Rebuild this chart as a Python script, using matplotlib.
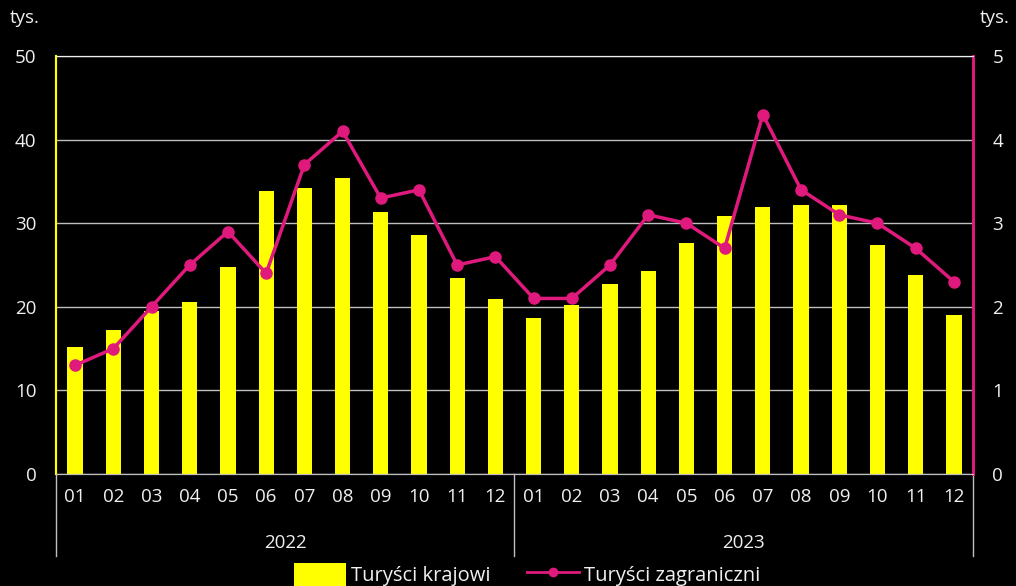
import matplotlib
matplotlib.use("Agg")
import matplotlib.pyplot as plt
import matplotlib.transforms as mtransforms
from matplotlib.lines import Line2D
from matplotlib.patches import Patch
import numpy as np

plt.rcParams['font.family'] = ['Open Sans', 'DejaVu Sans']

# Données
mois = ['01', '02', '03', '04', '05', '06', '07', '08', '09', '10', '11', '12']
annees = ['2022', '2023']
krajowi = [15.2, 17.2, 19.5, 20.6, 24.8, 33.9, 34.2, 35.4, 31.3, 28.6, 23.4, 20.9,
           18.7, 20.2, 22.7, 24.3, 27.6, 30.9, 31.9, 32.2, 32.2, 27.4, 23.8, 19.0]
zagraniczni = [1.3, 1.5, 2.0, 2.5, 2.9, 2.4, 3.7, 4.1, 3.3, 3.4, 2.5, 2.6,
               2.1, 2.1, 2.5, 3.1, 3.0, 2.7, 4.3, 3.4, 3.1, 3.0, 2.7, 2.3]

jaune = '#ffff00'
magenta = '#e0197d'
gris = '#bfbfbf'
blanc = '#f0f0f0'

x = np.arange(len(krajowi))

fig = plt.figure(figsize=(10.16, 5.86), dpi=100, facecolor='black')
ax = fig.add_axes([56 / 1016, 1 - 474 / 586, 917 / 1016, 418 / 586])
ax.set_facecolor('black')

ax.bar(x, krajowi, width=0.4, color=jaune, zorder=2)
ax.set_xlim(-0.5, len(x) - 0.5)
ax.set_ylim(0, 50)
ax.set_yticks(range(0, 51, 10))
ax.yaxis.grid(True, color=gris, linewidth=1, zorder=0)
ax.set_axisbelow(True)
ax.tick_params(axis='y', colors=blanc, labelsize=13.5, length=0, pad=14)
ax.tick_params(axis='x', length=0, labelbottom=False)

ax2 = ax.twinx()
ax2.plot(x, zagraniczni, color=magenta, linewidth=2.5, marker='o', markersize=8, zorder=3)
ax2.set_ylim(0, 5)
ax2.set_yticks(range(0, 6))
ax2.tick_params(axis='y', colors=blanc, labelsize=13.5, length=0, pad=14)

for a in (ax, ax2):
    a.spines['top'].set_color(blanc)
    a.spines['bottom'].set_color(gris)
    a.spines['left'].set_color(jaune)
    a.spines['right'].set_color(magenta)
    a.spines['right'].set_linewidth(2)
    a.spines['left'].set_linewidth(1.5)

# Axe des catégories sur deux niveaux
trans = mtransforms.blended_transform_factory(ax.transData, ax.transAxes)
for i, m in enumerate(mois * len(annees)):
    ax.text(i, -0.055, m, transform=trans, ha='center', va='center',
            color=blanc, fontsize=13.5)
for j, an in enumerate(annees):
    ax.text(j * 12 + 5.5, -0.165, an, transform=trans, ha='center', va='center',
            color=blanc, fontsize=13.5)
for sep in [-0.5, 11.5, 23.5]:
    ax.plot([sep, sep], [0, -0.195], transform=trans, color=gris,
            linewidth=1, clip_on=False)

fig.text(25 / 1016, 1 - 18 / 586, 'tys.', color=blanc, fontsize=13.5, ha='center', va='center')
fig.text(995 / 1016, 1 - 18 / 586, 'tys.', color=blanc, fontsize=13.5, ha='center', va='center')

# Légende
handles = [Patch(facecolor=jaune, edgecolor='none'),
           Line2D([], [], color=magenta, linewidth=2, marker='o', markersize=6)]
fig.legend(handles, ['Turyści krajowi', 'Turyści zagraniczni'], loc='center',
           bbox_to_anchor=(0.519, 0.02), ncol=2, frameon=False, fontsize=14.5,
           labelcolor=blanc, handlelength=2.6, handleheight=1.4, columnspacing=1.8,
           handletextpad=0.25, borderaxespad=0, borderpad=0)

fig.savefig('out.png', dpi=100, facecolor='black')
